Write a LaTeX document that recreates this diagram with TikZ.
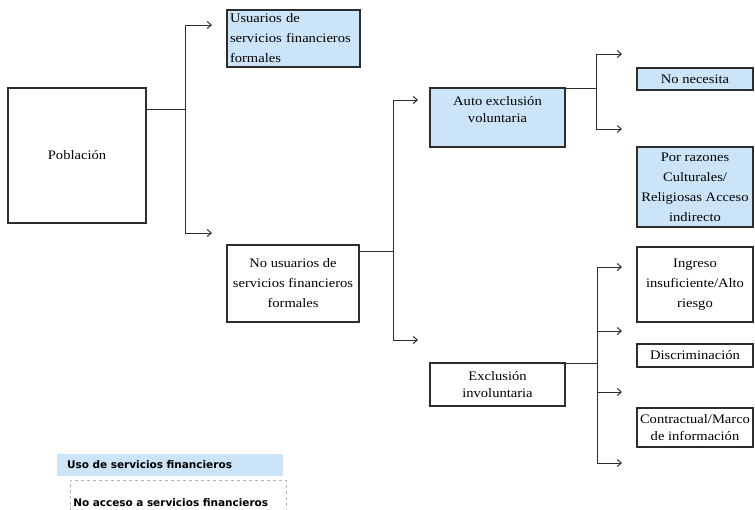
\documentclass[tikz,border=0pt]{standalone}
\usepackage{fontspec}
\setmainfont{Liberation Serif}[FakeStretch=1.12]
\newfontfamily\legfont{DejaVu Sans}
\usetikzlibrary{arrows.meta,calc}
\definecolor{boxblue}{RGB}{204,228,247}
\definecolor{edgec}{RGB}{45,45,45}
\tikzset{
  box/.style={draw=edgec, line width=1.2pt, inner sep=2pt, align=center,
    font=\fontsize{13}{20}\selectfont},
  bluebox/.style={box, fill=boxblue},
  conn/.style={draw=edgec, line width=1pt},
  arr/.style={conn, -{Straight Barb[length=4pt,width=7pt,line width=1pt]}},
  legtext/.style={font=\legfont\bfseries\fontsize{10.5}{12}\selectfont, align=left},
}
\begin{document}
\begin{tikzpicture}[x=1pt,y=-1pt]
\useasboundingbox (0,0) rectangle (755,509);
% boxes
\node[box, minimum width=138pt, minimum height=135pt] (pob) at (77,155.5) {Población};
\node[bluebox, align=left, text width=127pt, inner xsep=3pt, minimum height=57pt] (usu) at (293.5,38.5)
  {Usuarios de\\servicios financieros\\formales};
\node[box, minimum width=132pt, minimum height=77pt] (nous) at (293,283.5)
  {No usuarios de\\servicios financieros\\formales};
\node[bluebox, minimum width=135pt, minimum height=59pt] (auto) at (497.5,117.5)
  {Auto exclusión\\[-3pt]voluntaria\\[-3pt]\mbox{}};
\node[box, minimum width=135pt, minimum height=43pt] (excl) at (497.5,384.5)
  {Exclusión\\[-3pt]involuntaria};
\node[bluebox, minimum width=116pt, minimum height=22pt] (nonec) at (695,79) {No necesita};
\node[bluebox, minimum width=116pt, minimum height=80pt] (porraz) at (695,187)
  {Por razones\\Culturales/\\Religiosas Acceso\\indirecto};
\node[box, minimum width=116pt, minimum height=75pt] (ingr) at (695,284.5)
  {Ingreso\\insuficiente/Alto\\riesgo};
\node[box, minimum width=116pt, minimum height=23pt] (discr) at (695,355.5) {Discriminación};
\node[box, minimum width=116pt, minimum height=39pt] (contr) at (695,427.5)
  {Contractual/Marco\\[-3pt]de información};
% connectors
\coordinate (j1) at (185,109);
\coordinate (u1) at (212,25);
\coordinate (u2) at (212,233);
\draw[conn] (pob.east |- j1) -- (j1);
\draw[arr] (j1) |- (u1);
\draw[arr] (j1) |- (u2);
\coordinate (j2) at (393,251);
\coordinate (v1) at (418,100);
\coordinate (v2) at (418,340);
\draw[conn] (nous.east |- j2) -- (j2);
\draw[arr] (j2) |- (v1);
\draw[arr] (j2) |- (v2);
\coordinate (j3) at (596,88);
\coordinate (w1) at (622,54);
\coordinate (w2) at (622,129);
\draw[conn] (auto.east |- j3) -- (j3);
\draw[arr] (j3) |- (w1);
\draw[arr] (j3) |- (w2);
\coordinate (j4) at (597,363);
\coordinate (z1) at (622,267);
\coordinate (z2) at (622,331);
\coordinate (z3) at (622,392);
\coordinate (z4) at (622,463);
\draw[conn] (excl.east |- j4) -- (j4);
\draw[arr] (j4) |- (z1);
\draw[arr] (j4) |- (z4);
\draw[arr] (j4 |- z2) -- (z2);
\draw[arr] (j4 |- z3) -- (z3);
% legend
\node[legtext, fill=boxblue, anchor=west, text width=206pt, inner xsep=10pt, minimum height=22pt]
  (leg1) at (57,465) {Uso de servicios financieros};
\node[legtext, draw=gray!60, dashed, line width=0.6pt, anchor=north west, text width=210pt,
  inner xsep=3pt, minimum height=44pt] (leg2) at (70,480) {No acceso a servicios financieros};
\end{tikzpicture}
\end{document}
